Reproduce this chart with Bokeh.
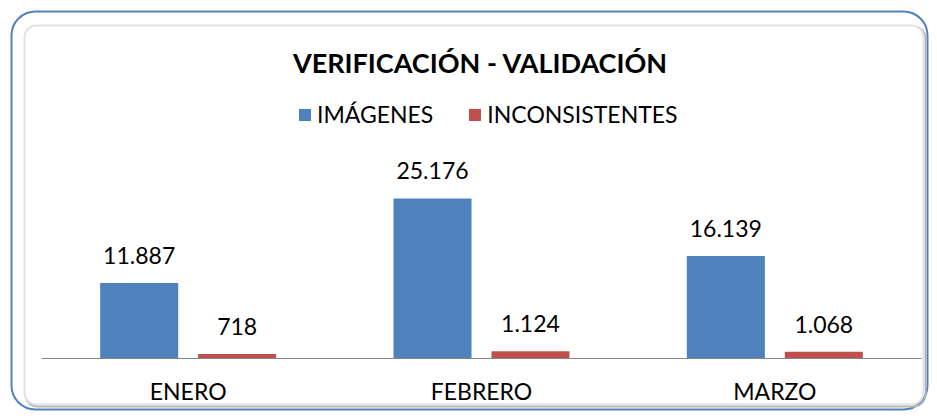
from bokeh.plotting import figure
from bokeh.models import (ColumnDataSource, LabelSet, Legend, LegendItem, BoxAnnotation,
                          Range1d, Label, FixedTicker)
from bokeh.core.properties import value
from bokeh.embed import file_html
from bokeh.resources import INLINE

categories = ["ENERO", "FEBRERO", "MARZO"]
imagenes = [11887, 25176, 16139]
inconsistentes = [718, 1124, 1068]
series_names = ["IMÁGENES", "INCONSISTENTES"]
title_text = "VERIFICACIÓN - VALIDACIÓN"

def fmt(v):
    return f"{v:,}".replace(",", ".")

W, H = 929, 411
centers = [i + 0.5 for i in range(len(categories))]
off = 0.167
bar_w = 0.266

src = ColumnDataSource(dict(
    x_img=[c - off for c in centers],
    x_inc=[c + off for c in centers],
    img=imagenes,
    inc=inconsistentes,
    img_lbl=[fmt(v) for v in imagenes],
    inc_lbl=[fmt(v) for v in inconsistentes],
))

FONT = "Lato"
p = figure(width=W, height=H, x_range=Range1d(-0.1398, 3.0273), y_range=Range1d(-8340, 56330),
           output_backend="svg", toolbar_location=None,
           min_border_left=0, min_border_right=0, min_border_top=0, min_border_bottom=0)
p.outline_line_color = None
p.xgrid.visible = False
p.ygrid.visible = False
p.yaxis.visible = False
xa = p.xaxis[0]
xa.fixed_location = 0
xa.bounds = (0, len(categories))
xa.ticker = FixedTicker(ticks=centers)
xa.major_label_overrides = {c: n for c, n in zip(centers, categories)}
xa.axis_line_color = "#868686"
xa.axis_line_width = 1
xa.major_tick_line_color = None
xa.minor_tick_line_color = None
xa.major_label_text_font = FONT
xa.major_label_text_font_size = "23px"
xa.major_label_text_color = "#000000"
xa.major_label_standoff = 13

# outer rounded border and inner shadowed panel (screen units)
box_units = dict(left_units="screen", right_units="screen", top_units="screen", bottom_units="screen")
outer = BoxAnnotation(left=11, right=927, top=400, bottom=2, **box_units,
                      fill_color=None, line_color="#4f81bd", line_alpha=1.0, line_width=2,
                      border_radius=24, level="underlay")
shadow = BoxAnnotation(left=25, right=925, top=385, bottom=5, **box_units,
                       fill_color=None, line_color="#b4b4b4", line_alpha=1.0, line_width=2,
                       border_radius=12, level="underlay")
inner = BoxAnnotation(left=24, right=923, top=386, bottom=7, **box_units,
                      fill_color="white", fill_alpha=1.0, line_color="#e2e2e2", line_alpha=1.0,
                      line_width=2, border_radius=12, level="underlay")
p.add_layout(outer)
p.add_layout(shadow)
p.add_layout(inner)

r1 = p.vbar(x="x_img", top="img", width=bar_w, source=src, fill_color="#4f81bd", line_color=None)
r2 = p.vbar(x="x_inc", top="inc", width=bar_w, source=src, fill_color="#c0504d", line_color=None)

for xf, field, lbl in (("x_img", "img", "img_lbl"), ("x_inc", "inc", "inc_lbl")):
    p.add_layout(LabelSet(x=xf, y=field, text=lbl, source=src,
                          y_offset=19, text_align="center", text_baseline="alphabetic",
                          text_font=value(FONT), text_font_size="23px", text_color="#000000"))

p.add_layout(Label(x=480, y=349, x_units="screen", y_units="screen", text=title_text,
                   text_font=FONT, text_font_style="bold", text_font_size="27px",
                   text_align="center", text_baseline="alphabetic", text_color="#000000"))

legend = Legend(items=[LegendItem(label=series_names[0], renderers=[r1]),
                       LegendItem(label=series_names[1], renderers=[r2])],
                location=(297, 283), orientation="horizontal",
                label_text_font=FONT, label_text_font_size="23px", label_text_color="#000000",
                glyph_width=15, glyph_height=15, label_standoff=5, spacing=34,
                padding=0, margin=0, border_line_color=None, background_fill_alpha=0)
p.add_layout(legend, "center")

open("out.html", "w").write(file_html(p, INLINE))
